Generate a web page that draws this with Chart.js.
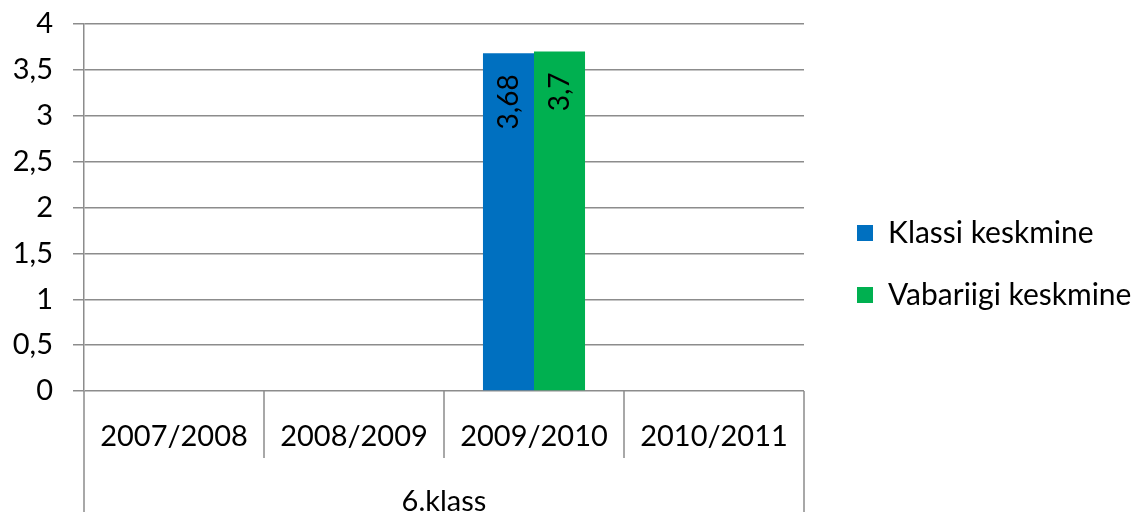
<!DOCTYPE html>
<html>
<head>
<meta charset="utf-8">
<script src="https://cdn.jsdelivr.net/npm/chart.js@4/dist/chart.umd.min.js"></script>
<style>
  html, body { margin: 0; padding: 0; background: #fff; }
  #wrap { width: 1137px; height: 512px; }
</style>
</head>
<body>
<div id="wrap"><canvas id="chartKeskmine"></canvas></div>
<script>
// andmed
const kategooriad = ['2007/2008', '2008/2009', '2009/2010', '2010/2011'];
const grupp = '6.klass';
const klassiKeskmine = [null, null, 3.68, null];
const vabariigiKeskmine = [null, null, 3.7, null];
const yMin = 0, yMax = 4, ySamm = 0.5;

const font = 'Lato, "Open Sans", sans-serif';
const joon = '#8c8c8c';
const legendiLaius = 333;   // legendi ala laius paremal
const legendiNihe = 21;     // kui palju legendi kirjed paremale lükata
const legendiTõste = 4;     // ja kui palju üles

function koma(v) {
  return String(v).replace('.', ',');
}

// silt tulba sisse, pööratud
const tulbaSildid = {
  id: 'tulbaSildid',
  afterDatasetsDraw(chart) {
    const ctx = chart.ctx;
    chart.data.datasets.forEach((ds, i) => {
      const meta = chart.getDatasetMeta(i);
      meta.data.forEach((bar, j) => {
        const v = ds.data[j];
        if (v === null || v === undefined) return;
        ctx.save();
        ctx.translate(bar.x, bar.y + 21);
        ctx.rotate(-Math.PI / 2);
        ctx.font = '28px ' + font;
        ctx.fillStyle = '#000';
        ctx.textAlign = 'right';
        ctx.textBaseline = 'middle';
        ctx.fillText(koma(v), 0, 0);
        ctx.restore();
      });
    });
  }
};

// mitmetasemeline x-telg: vahejooned ja grupi nimi
const mitmeTasemeTelg = {
  id: 'mitmeTasemeTelg',
  afterDraw(chart) {
    const ctx = chart.ctx;
    const x = chart.scales.x;
    const ala = chart.chartArea;
    ctx.save();
    ctx.strokeStyle = joon;
    ctx.lineWidth = 1.5;
    ctx.beginPath();
    for (let i = 0; i < kategooriad.length - 1; i++) {
      const px = (x.getPixelForValue(i) + x.getPixelForValue(i + 1)) / 2;
      ctx.moveTo(px, ala.bottom);
      ctx.lineTo(px, ala.bottom + 67);
    }
    ctx.moveTo(ala.left, ala.bottom);
    ctx.lineTo(ala.left, chart.height);
    ctx.moveTo(ala.right, ala.bottom);
    ctx.lineTo(ala.right, chart.height);
    ctx.stroke();
    ctx.font = '29px ' + font;
    ctx.fillStyle = '#000';
    ctx.textAlign = 'center';
    ctx.textBaseline = 'middle';
    ctx.fillText(grupp, (ala.left + ala.right) / 2, ala.bottom + 111);
    ctx.restore();
  }
};

// legendi kirjed paremale ja veidi üles
const legendiPaigutus = {
  id: 'legendiPaigutus',
  afterLayout(chart) {
    if (!chart.legend) return;
    chart.legend.left += legendiNihe;
    chart.legend.top -= legendiTõste;
    chart.legend.bottom -= legendiTõste;
  }
};

window.onload = function() {
  const canvas = document.getElementById('chartKeskmine');
  const chart = new Chart(canvas, {
    type: 'bar',
    data: {
      labels: kategooriad,
      datasets: [{
        label: 'Klassi keskmine',
        data: klassiKeskmine,
        backgroundColor: '#0070C0'
      }, {
        label: 'Vabariigi keskmine',
        data: vabariigiKeskmine,
        backgroundColor: '#00B050'
      }]
    },
    options: {
      responsive: true,
      maintainAspectRatio: false,
      animation: false,
      layout: {
        padding: { top: 24, right: 0, bottom: 0, left: 0 }
      },
      datasets: {
        bar: { categoryPercentage: 0.567, barPercentage: 1 }
      },
      plugins: {
        legend: {
          position: 'right',
          labels: {
            boxWidth: 16,
            boxHeight: 16,
            padding: 32,
            color: '#000',
            font: { family: font, size: 30 }
          }
        },
        tooltip: { enabled: false }
      },
      scales: {
        x: {
          grid: { display: false, drawTicks: false },
          border: { display: false },
          ticks: {
            color: '#000',
            padding: 28,
            font: { family: font, size: 29 }
          },
          afterFit(scale) { scale.height = 121; }
        },
        y: {
          min: yMin,
          max: yMax,
          grid: { color: joon, lineWidth: 1.5, tickLength: 11 },
          border: { color: joon, width: 1.5 },
          ticks: {
            stepSize: ySamm,
            color: '#000',
            padding: 20,
            font: { family: font, size: 29 },
            callback: v => koma(v)
          },
          afterFit(scale) {
            scale.width = 84;
            scale.paddingTop = 0;
            scale.paddingBottom = 0;
          }
        }
      }
    },
    plugins: [tulbaSildid, mitmeTasemeTelg, legendiPaigutus]
  });
  // legendi laius käsitsi
  const vanaFit = chart.legend.fit;
  chart.legend.fit = function() {
    vanaFit.call(this);
    this.width = legendiLaius;
  };
  chart.update();
};
</script>
</body>
</html>
